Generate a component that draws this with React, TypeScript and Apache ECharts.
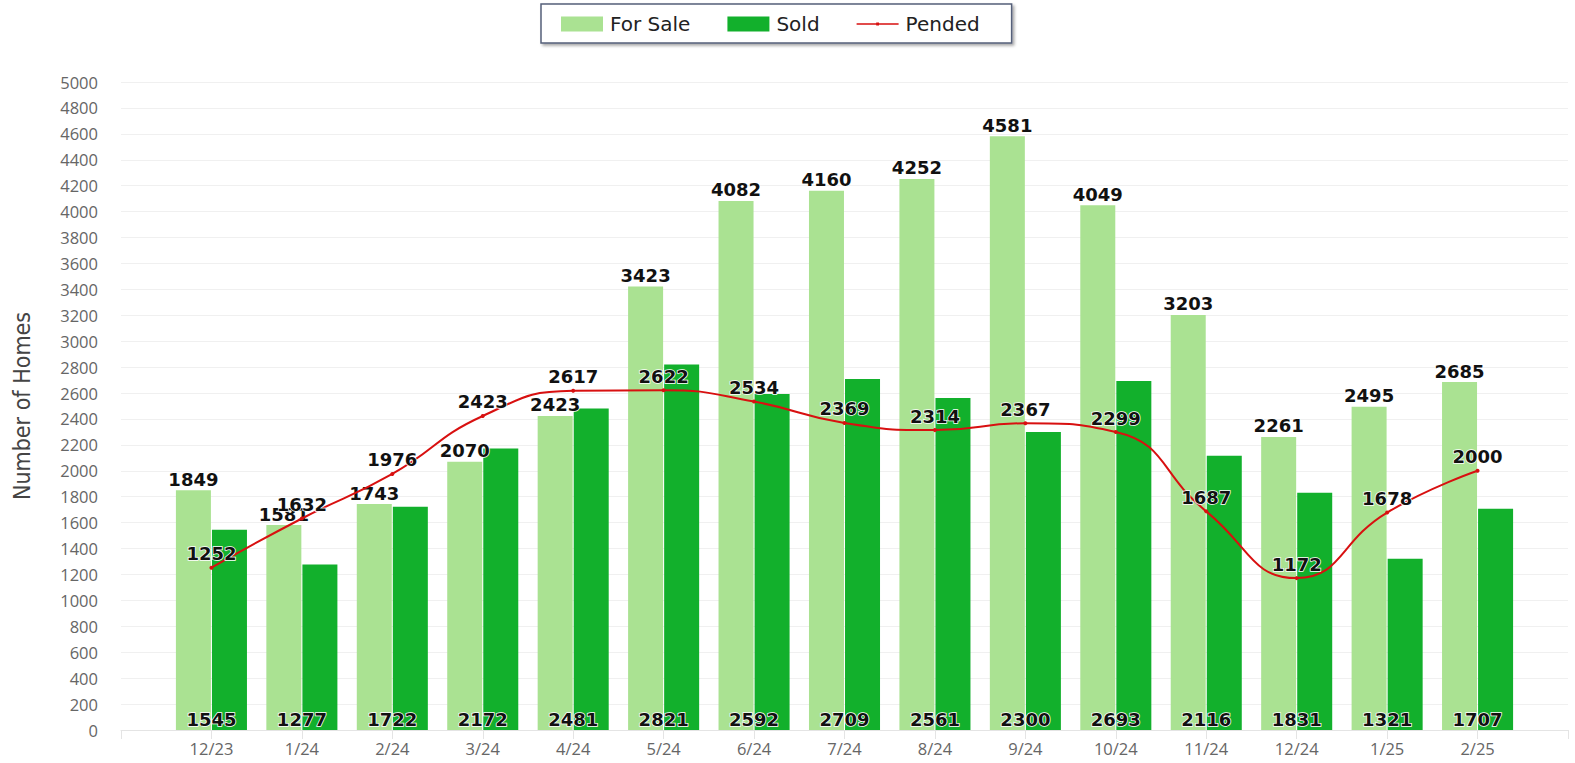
import React, { useEffect, useRef } from "react";
import * as echarts from "echarts";

const categories = ["12/23", "1/24", "2/24", "3/24", "4/24", "5/24", "6/24", "7/24", "8/24", "9/24", "10/24", "11/24", "12/24", "1/25", "2/25"];
const forSale = [1849, 1581, 1743, 2070, 2423, 3423, 4082, 4160, 4252, 4581, 4049, 3203, 2261, 2495, 2685];
const sold = [1545, 1277, 1722, 2172, 2481, 2821, 2592, 2709, 2561, 2300, 2693, 2116, 1831, 1321, 1707];
const pended = [1252, 1632, 1976, 2423, 2617, 2622, 2534, 2369, 2314, 2367, 2299, 1687, 1172, 1678, 2000];

const pad = (arr: any[]) => [null, ...arr, null];

const lineIcon =
  "path://M0,0h0.01v0.01h-0.01z M42,15h-0.01v-0.01h0.01z M0,6.8h42v1.5h-42z M19.6,6.1h2.8v2.8h-2.8z";

export default function App() {
  const ref = useRef<HTMLDivElement>(null);
  useEffect(() => {
    if (!ref.current) return;
    const chart = echarts.init(ref.current, undefined, { renderer: "svg" });
    const labelStyle = {
      show: true,
      color: "#111",
      fontFamily: "DejaVu Sans, Arial, sans-serif",
      fontWeight: "bold" as const,
      fontSize: 18,
      textBorderColor: "#fff",
      textBorderWidth: 1.5,
    };
    chart.setOption({
      animation: false,
      backgroundColor: "#fff",
      legend: {
        left: 541,
        top: 4,
        padding: [10, 32, 9, 20],
        itemGap: 37,
        itemWidth: 42,
        itemHeight: 15,
        borderColor: "#55607a",
        borderWidth: 1.5,
        backgroundColor: "#fff",
        shadowColor: "rgba(0,0,0,0.35)",
        shadowBlur: 3,
        shadowOffsetX: 2,
        shadowOffsetY: 2,
        textStyle: { fontFamily: "DejaVu Sans, Arial, sans-serif", fontSize: 20, color: "#222", padding: [0, 0, 0, 2] },
        data: [
          { name: "For Sale", icon: "rect" },
          { name: "Sold", icon: "rect" },
          { name: "Pended", icon: lineIcon },
        ],
      },
      grid: { left: 121, right: 7, top: 82, bottom: 33, containLabel: false },
      xAxis: {
        type: "category",
        boundaryGap: false,
        data: ["", ...categories, ""],
        axisLine: { lineStyle: { color: "#e4e4e4" } },
        axisTick: { show: true, interval: 0, length: 9, lineStyle: { color: "#e4e4e4" } },
        axisLabel: { interval: 0, color: "#666", fontSize: 16.5, fontFamily: "Open Sans, sans-serif", margin: 10 },
        splitLine: { show: false },
      },
      yAxis: {
        type: "value",
        min: 0,
        max: 5000,
        interval: 200,
        name: "Number of Homes",
        nameLocation: "middle",
        nameGap: 88,
        nameTextStyle: { fontSize: 23, color: "#444", fontFamily: "Liberation Sans Narrow, DejaVu Sans Condensed, sans-serif" },
        axisLine: { show: false },
        axisTick: { show: false },
        axisLabel: {
          color: "#666",
          fontSize: 16.5,
          fontFamily: "Open Sans, sans-serif",
          margin: 23,
          formatter: (v: number) => String(v),
        },
        splitLine: { lineStyle: { color: "#f0f0f0", width: 1 } },
      },
      series: [
        {
          name: "For Sale",
          type: "bar",
          data: pad(forSale),
          barWidth: 35,
          barGap: "3%",
          itemStyle: { color: "#aae292" },
          label: { ...labelStyle, position: "top", distance: 2 },
        },
        {
          name: "Sold",
          type: "bar",
          data: pad(sold),
          barWidth: 35,
          barGap: "3%",
          itemStyle: { color: "#12b02c" },
          label: { ...labelStyle, position: "insideBottom", distance: 2, offset: [-18, 0] },
        },
        {
          name: "Pended",
          type: "line",
          data: pad(pended),
          smooth: true,
          symbol: "circle",
          symbolSize: 4,
          showSymbol: true,
          lineStyle: { color: "#d81010", width: 2 },
          itemStyle: { color: "#d81010" },
          label: { ...labelStyle, position: "top", distance: 3 },
          z: 5,
        },
      ],
    });
    return () => chart.dispose();
  }, []);
  return <div ref={ref} style={{ position: "fixed", left: 0, top: 0, width: 1575, height: 763 }} />;
}
